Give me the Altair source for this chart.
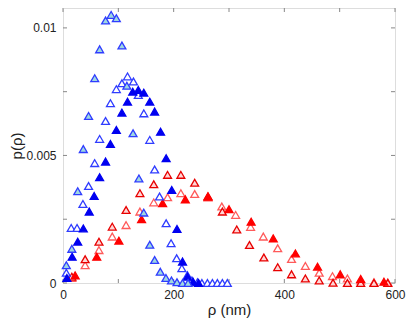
import altair as alt
import pandas as pd

# Series A: blue outline, light teal fill
a_x = [6, 16, 26.6, 36.7, 46.2, 57.3, 66.2, 76.9, 87, 96.4, 106.5, 115.4, 126.6, 137.2, 146, 156.8, 165.6, 175.8, 186, 196, 206, 216, 226]
a_y = [0.0007, 0.00134, 0.0036, 0.00525, 0.00655, 0.00803, 0.00916, 0.01029, 0.01051, 0.01038, 0.00931, 0.00773, 0.00587, 0.0041, 0.00276, 0.0015, 0.0009, 0.00044, 0.0002, 0.0001, 0.00003, 0.0, 0.0]
# Series B: blue outline, white fill
b_x = [6, 14.8, 25.4, 36, 46.2, 57.3, 66.2, 76.9, 85.7, 96.4, 106.5, 116.6, 127.3, 136.1, 146.1, 156.8, 165.6, 174.5, 186.4, 195.3, 205.4, 214.8, 224.9, 233, 243, 251, 261, 270, 279, 288, 297]
b_y = [0.0004, 0.00216, 0.00216, 0.0031, 0.0038, 0.0047, 0.00565, 0.00635, 0.00705, 0.0076, 0.00783, 0.0081, 0.0079, 0.00737, 0.00665, 0.00561, 0.00445, 0.00339, 0.00234, 0.00156, 0.00097, 0.00058, 0.00031, 0.0001, 0.00003, 0.0, 0.0, 0.0, 0.0, 0.0, 0.0]
# Series C: blue filled
c_x = [7, 16.5, 26.6, 36.7, 47.4, 56.3, 66.2, 76.9, 85.7, 96.4, 106.5, 116.6, 126, 136, 146, 156.8, 165.6, 176.3, 186.4, 196.5, 206, 216, 225, 235, 245]
c_y = [0.0002, 0.00103, 0.00162, 0.00214, 0.0028, 0.00341, 0.00415, 0.00476, 0.00545, 0.006, 0.00668, 0.00711, 0.0075, 0.00757, 0.00746, 0.00711, 0.00672, 0.00593, 0.00489, 0.00365, 0.00212, 0.00084, 0.00025, 0.00005, 0.0]
# Series D: dark red outline, light pink fill
d_x = [16, 40, 65, 89, 114, 139, 164, 189, 213, 238, 262, 288, 314, 337, 363, 388, 413, 438, 463, 488, 514, 538, 562, 587]
d_y = [0.00025, 0.00093, 0.00162, 0.00221, 0.00286, 0.00352, 0.00387, 0.00424, 0.00424, 0.00393, 0.0034, 0.0028, 0.0021, 0.00149, 0.001, 0.00062, 0.00034, 0.00018, 0.0001, 0.00001, 0.0, 0.0, 0.0, 0.0]
# Series E: light red outline, white fill
e_x = [16, 40, 65, 89, 114, 139, 164, 189, 213, 238, 262, 287, 312, 339, 362, 388, 413, 438, 463, 487, 514, 538, 562, 587]
e_y = [0.0002, 0.0007, 0.00129, 0.00182, 0.00227, 0.0028, 0.00316, 0.00336, 0.00352, 0.00349, 0.00335, 0.003, 0.00267, 0.0022, 0.00182, 0.00136, 0.00094, 0.00067, 0.0004, 0.00027, 0.00018, 0.0001, 0.00003, 0.00002]
# Series F: red filled
f_x = [22, 61, 101, 142, 180, 221, 262, 300, 340, 380, 420, 460, 501, 538, 580]
f_y = [0.0003, 0.00103, 0.00166, 0.0025, 0.00313, 0.00328, 0.00338, 0.00289, 0.0024, 0.00175, 0.00116, 0.00064, 0.00034, 0.00016, 0.00005]

x_ticks = [0, 100, 200, 300, 400, 500, 600]
y_ticks = [0, 0.0025, 0.005, 0.0075, 0.01]
x_labels = [0, 200, 400, 600]
y_labels = [0, 0.005, 0.01]

XMAX = 600
YMAX = 0.01078
W, H = 332, 275

xs = alt.Scale(domain=[0, XMAX], nice=False, zero=False)
ys = alt.Scale(domain=[0, YMAX], nice=False, zero=False)

xaxis = alt.Axis(values=x_labels, ticks=False, domain=False, grid=False, labelFontSize=12,
                 labelColor="#222", title="ρ (nm)", titleFontSize=15, titleFontWeight="normal",
                 labelPadding=6, titlePadding=2, labelFont="Liberation Sans", titleFont="Liberation Sans",
                 labelFlush=False, titleColor="#222")
yaxis = alt.Axis(values=y_labels, ticks=False, domain=False, grid=False, labelFontSize=12,
                 labelColor="#222", title="p(ρ)", titleFontSize=15, titleFontWeight="normal",
                 labelPadding=7, titlePadding=1, labelFont="Liberation Sans", titleFont="Liberation Sans",
                 labelExpr="toString(datum.value)", labelFlush=False, titleColor="#222")

X = lambda: alt.X("x:Q", scale=xs, axis=xaxis)
Y = lambda: alt.Y("y:Q", scale=ys, axis=yaxis)


def series(xv, yv, fill, stroke):
    df = pd.DataFrame({"x": xv, "y": yv})
    return alt.Chart(df).mark_point(shape="triangle-up", size=62, filled=True,
                                    fill=fill, stroke=stroke, strokeWidth=1.3, opacity=1).encode(
        x=X(), y=Y())


xt = pd.DataFrame({"x": x_ticks})
yt = pd.DataFrame({"y": y_ticks})
tick_color = "#888"
tb = alt.Chart(xt).mark_rule(color=tick_color, strokeWidth=1).encode(
    x=X(), y=alt.value(H), y2=alt.value(H - 4))
tt = alt.Chart(xt).mark_rule(color=tick_color, strokeWidth=1).encode(
    x=X(), y=alt.value(0), y2=alt.value(4))
tl = alt.Chart(yt).mark_rule(color=tick_color, strokeWidth=1).encode(
    y=Y(), x=alt.value(0), x2=alt.value(4))
tr = alt.Chart(yt).mark_rule(color=tick_color, strokeWidth=1).encode(
    y=Y(), x=alt.value(W), x2=alt.value(W - 4))

chart = alt.layer(
    tb, tt, tl, tr,
    series(e_x, e_y, "white", "#ff5a5a"),
    series(d_x, d_y, "#ffd6d6", "#e80000"),
    series(f_x, f_y, "#ff0000", "#ff0000"),
    series(b_x, b_y, "white", "#2f3cff"),
    series(c_x, c_y, "#0000f0", "#0000f0"),
    series(a_x, a_y, "#9fd8e0", "#2f3cff"),
).properties(
    width=W, height=H,
    autosize=alt.AutoSizeParams(type="none"),
    padding={"left": 55, "top": 0, "right": 11, "bottom": 36},
).configure_view(stroke="#444", strokeWidth=1.2).configure(background="white")

chart.save("out.html", embed_options={"renderer": "svg", "actions": False})
